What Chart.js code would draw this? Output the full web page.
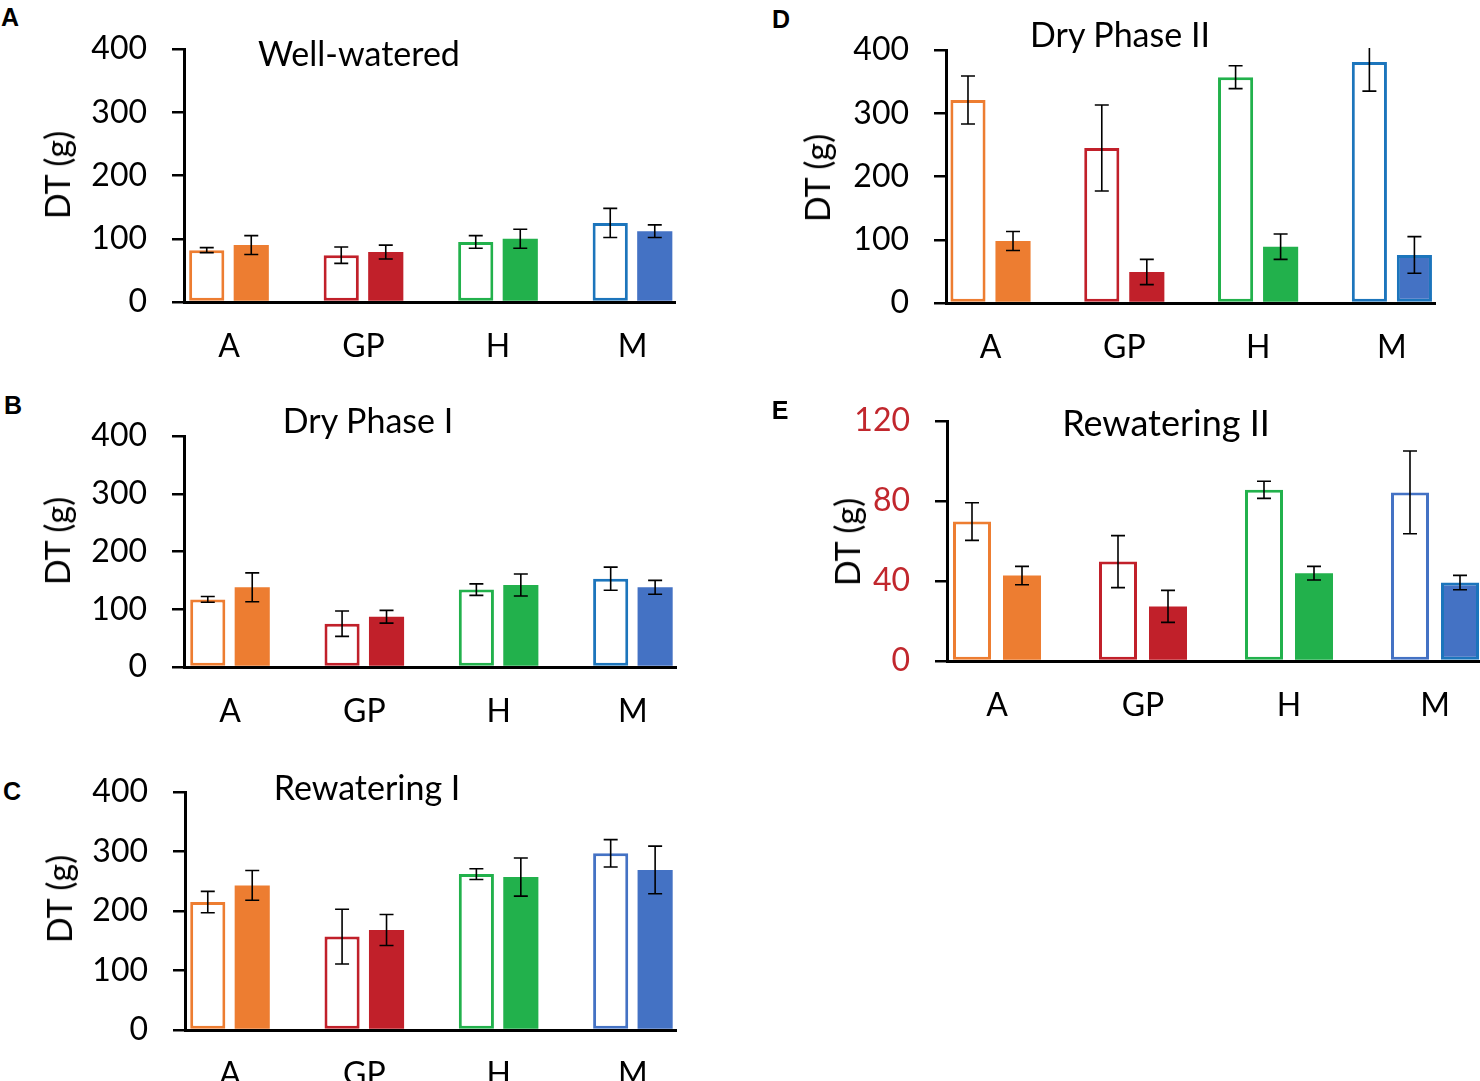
<!DOCTYPE html>
<html><head><meta charset="utf-8">
<script src="https://cdn.jsdelivr.net/npm/chart.js@4.4.1/dist/chart.umd.min.js"></script>
<style>
html,body{margin:0;padding:0;background:#fff;width:1480px;height:1081px;overflow:hidden;position:relative;font-family:Lato,"Open Sans",sans-serif}
canvas{position:absolute}
.t{position:absolute;white-space:nowrap;color:#000;line-height:1;transform:translate(-50%,-50%)}
.ttl{font-size:34px}
.yt{font-size:34px;transform:translate(-50%,-50%) rotate(-90deg)}
.pl{font-family:"Liberation Sans",Arial,sans-serif;font-weight:bold;font-size:25px}
</style></head><body>
<script>
// ---------- DATA ----------
const categories = ['A', 'GP', 'H', 'M'];
const ticks400 = [0, 100, 200, 300, 400];
const ticks120 = [0, 40, 80, 120];

// A: Well-watered
const wwHollow = [82, 74, 95, 125];
const wwHollowErr = [4, 13, 10, 23];
const wwFilled = [90, 79, 100, 112];
const wwFilledErr = [15, 11, 15, 10];
// B: Dry Phase I
const dp1Hollow = [117, 75, 134, 153];
const dp1HollowErr = [5, 22, 10, 20];
const dp1Filled = [138, 87, 142, 138];
const dp1FilledErr = [25, 11, 19, 12];
// C: Rewatering I
const rw1Hollow = [215, 157, 262, 297];
const rw1HollowErr = [18, 46, 9, 23];
const rw1Filled = [243, 168, 257, 269];
const rw1FilledErr = [25, 26, 32, 40];
// D: Dry Phase II
const dp2Hollow = [321, 245, 357, 381];
const dp2HollowErr = [38, 68, 18, 46];
const dp2Filled = [98, 49, 89, 76];
const dp2FilledErr = [15, 20, 20, 29];
// E: Rewatering II
const rw2Hollow = [69.7, 49.7, 85.6, 84.3];
const rw2HollowErr = [9.4, 13, 4.3, 20.7];
const rw2Filled = [42.7, 27.3, 43.9, 39.2];
const rw2FilledErr = [4.6, 8, 3.4, 3.6];

// ---------- STYLE / LAYOUT ----------
const ORANGE = '#ED7D31', RED = '#C1202A', GREEN = '#22B14C', BLUE_D = '#1C75BC', BLUE_L = '#4472C4';
const FONT = 'Lato';
const yW = 150, padTop = 50, padRight = 10, xH = 70;

const panels = [
  {hollow: wwHollow, hErr: wwHollowErr, filled: wwFilled, fErr: wwFilledErr, ticks: ticks400,
   geo: {left:184, right:675, top:49, bottom:302, c0:229, step:134.5, cat:0.662, bar:0.79},
   hollowBorder: [ORANGE, RED, GREEN, BLUE_D], filledBorder: [ORANGE, RED, GREEN, BLUE_L], filledBW: [0,0,0,0], tickColor:'#000'},
  {hollow: dp1Hollow, hErr: dp1HollowErr, filled: dp1Filled, fErr: dp1FilledErr, ticks: ticks400,
   geo: {left:184, right:676, top:436, bottom:667, c0:230, step:134.3, cat:0.662, bar:0.79},
   hollowBorder: [ORANGE, RED, GREEN, BLUE_D], filledBorder: [ORANGE, RED, GREEN, BLUE_L], filledBW: [0,0,0,0], tickColor:'#000'},
  {hollow: rw1Hollow, hErr: rw1HollowErr, filled: rw1Filled, fErr: rw1FilledErr, ticks: ticks400,
   geo: {left:185, right:676, top:792, bottom:1030, c0:230, step:134.3, cat:0.662, bar:0.79},
   hollowBorder: [ORANGE, RED, GREEN, BLUE_L], filledBorder: [ORANGE, RED, GREEN, BLUE_L], filledBW: [0,0,0,0], tickColor:'#000'},
  {hollow: dp2Hollow, hErr: dp2HollowErr, filled: dp2Filled, fErr: dp2FilledErr, ticks: ticks400,
   geo: {left:946, right:1435, top:50, bottom:303, c0:990.5, step:133.8, cat:0.673, bar:0.78},
   hollowBorder: [ORANGE, RED, GREEN, BLUE_D], filledBorder: [ORANGE, RED, GREEN, BLUE_D], filledBW: [0,0,0,3], tickColor:'#000'},
  {hollow: rw2Hollow, hErr: rw2HollowErr, filled: rw2Filled, fErr: rw2FilledErr, ticks: ticks120,
   geo: {left:947, right:1490, top:421, bottom:661, c0:997, step:146, cat:0.685, bar:0.76},
   hollowBorder: [ORANGE, RED, GREEN, BLUE_L], filledBorder: [ORANGE, RED, GREEN, BLUE_D], filledBW: [0,0,0,3], tickColor:'#C1272D'}
];

const texts = [
  {t:'A', x:10, y:17, c:'pl'}, {t:'B', x:13, y:405, c:'pl'}, {t:'C', x:12, y:791, c:'pl'},
  {t:'D', x:781, y:19, c:'pl'}, {t:'E', x:780, y:410, c:'pl'},
  {t:'Well-watered', x:359, y:53, c:'ttl'}, {t:'Dry Phase I', x:368, y:420, c:'ttl'},
  {t:'Rewatering I', x:367, y:787, c:'ttl'}, {t:'Dry Phase II', x:1120, y:34, c:'ttl'},
  {t:'Rewatering II', x:1166, y:422, c:'ttl', fs:36},
  {t:'DT (g)', x:57, y:175, c:'yt'}, {t:'DT (g)', x:57, y:541, c:'yt'}, {t:'DT (g)', x:59, y:899, c:'yt'},
  {t:'DT (g)', x:817, y:178, c:'yt'}, {t:'DT (g)', x:847, y:542, c:'yt'}
];

const errorBars = {
  id: 'errorBars',
  afterDatasetsDraw(chart) {
    const {ctx, chartArea} = chart;
    const ys = chart.scales.y;
    chart.data.datasets.forEach((ds, di) => {
      const meta = chart.getDatasetMeta(di);
      meta.data.forEach((el, i) => {
        const v = ds.data[i].y, e = ds.errorValues[i];
        let top = ys.getPixelForValue(v + e);
        const bot = ys.getPixelForValue(v - e);
        let cap = true;
        if (top < chartArea.top - 2) { top = chartArea.top - 2; cap = false; }
        ctx.save();
        ctx.strokeStyle = '#000';
        ctx.lineWidth = 1.6;
        ctx.beginPath();
        ctx.moveTo(el.x, top); ctx.lineTo(el.x, bot);
        if (cap) { ctx.moveTo(el.x - 7, top); ctx.lineTo(el.x + 7, top); }
        ctx.moveTo(el.x - 7, bot); ctx.lineTo(el.x + 7, bot);
        ctx.stroke();
        ctx.restore();
      });
    });
  }
};

panels.forEach(p => {
  const g = p.geo;
  const cv = document.createElement('canvas');
  const w = Math.round(g.right - g.left + yW + padRight);
  const h = Math.round(padTop + (g.bottom - g.top) + xH);
  cv.width = w; cv.height = h;
  cv.style.left = (g.left - yW) + 'px';
  cv.style.top = (g.top - padTop) + 'px';
  cv.style.width = w + 'px'; cv.style.height = h + 'px';
  document.body.appendChild(cv);
  const xmin = (g.left - g.c0) / g.step;
  const xmax = (categories.length - 1) + (g.right - (g.c0 + (categories.length - 1) * g.step)) / g.step;
  const t = p.ticks;
  new Chart(cv, {
    type: 'bar',
    data: {
      datasets: [
        {data: p.hollow.map((v, i) => ({x: i, y: v})), errorValues: p.hErr,
         backgroundColor: '#fff', borderColor: p.hollowBorder, borderWidth: 3, borderSkipped: false,
         categoryPercentage: g.cat, barPercentage: g.bar},
        {data: p.filled.map((v, i) => ({x: i, y: v})), errorValues: p.fErr,
         backgroundColor: [ORANGE, RED, GREEN, BLUE_L], borderColor: p.filledBorder, borderWidth: p.filledBW, borderSkipped: false,
         categoryPercentage: g.cat, barPercentage: g.bar}
      ]
    },
    options: {
      responsive: false, animation: false,
      layout: {padding: {top: padTop, right: padRight, left: 0, bottom: 0}},
      plugins: {legend: {display: false}, tooltip: {enabled: false}, title: {display: false}},
      scales: {
        x: {
          type: 'linear', min: xmin, max: xmax, offset: false,
          grid: {display: false, drawTicks: false, tickLength: 0},
          border: {display: true, color: '#000', width: 3},
          ticks: {stepSize: 1, includeBounds: false, autoSkip: false, maxRotation: 0, padding: 25,
                  color: '#000', font: {family: FONT, size: 32},
                  callback: v => (Number.isInteger(v) && categories[v] !== undefined) ? categories[v] : ''},
          afterFit: s => { s.height = xH; }
        },
        y: {
          type: 'linear', min: t[0], max: t[t.length - 1],
          grid: {display: true, drawOnChartArea: false, drawTicks: true, tickLength: 12, color: '#000', lineWidth: 2.5},
          border: {display: true, color: '#000', width: 3},
          ticks: {stepSize: t[1] - t[0], padding: 25, color: p.tickColor, font: {family: FONT, size: 32}},
          afterFit: s => { s.width = yW; }
        }
      }
    },
    plugins: [errorBars]
  });
});

texts.forEach(o => {
  const d = document.createElement('div');
  d.className = 't ' + o.c;
  d.textContent = o.t;
  d.style.left = o.x + 'px';
  d.style.top = o.y + 'px';
  if (o.fs) d.style.fontSize = o.fs + 'px';
  document.body.appendChild(d);
});
</script>
</body></html>
